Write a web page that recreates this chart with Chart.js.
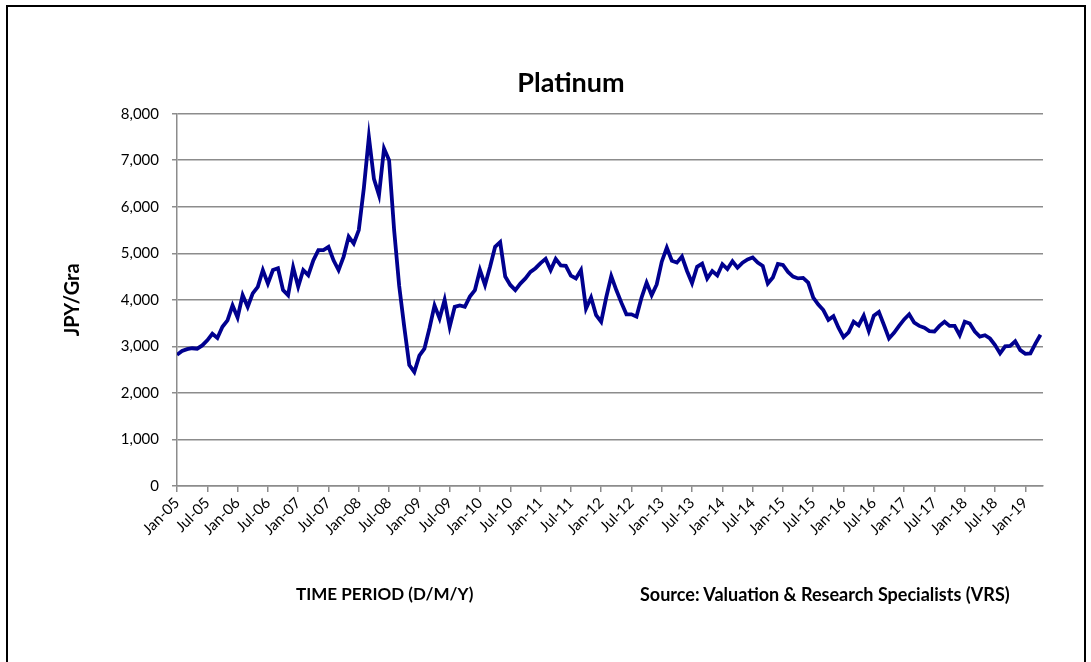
<!DOCTYPE html>
<html>
<head>
<meta charset="utf-8">
<script src="https://cdn.jsdelivr.net/npm/chart.js@4.4.1/dist/chart.umd.min.js"></script>
<style>
  html, body { margin: 0; padding: 0; background: #fff; }
  body { width: 1091px; height: 662px; position: relative; overflow: hidden; font-family: Lato, "DejaVu Sans", sans-serif; }
  #frame { position: absolute; left: 6px; top: 5px; width: 1076px; height: 700px; border: 2px solid #000; }
  #chart { position: absolute; left: 0; top: 0; }
  #title { position: absolute; left: 421px; width: 300px; top: 66px; line-height: 32px; text-align: center; font-size: 27px; font-weight: bold; color: #000; }
  .note { position: absolute; top: 583px; line-height: 22px; font-weight: bold; color: #000; white-space: nowrap; }
</style>
</head>
<body>
<div id="frame"></div>
<canvas id="chart" width="1091" height="662"></canvas>
<div id="title">Platinum</div>
<div class="note" style="left:296px; font-size:17px">TIME PERIOD (D/M/Y)</div>
<div class="note" style="left:640px; font-size:18px">Source: Valuation &amp; Research Specialists (VRS)</div>
<script>
// x tick labels, one every 6 months starting Jan-05
const TICK_LABELS = [
  "Jan-05", "Jul-05", "Jan-06", "Jul-06", "Jan-07", "Jul-07", "Jan-08", "Jul-08",
  "Jan-09", "Jul-09", "Jan-10", "Jul-10", "Jan-11", "Jul-11", "Jan-12", "Jul-12",
  "Jan-13", "Jul-13", "Jan-14", "Jul-14", "Jan-15", "Jul-15", "Jan-16", "Jul-16",
  "Jan-17", "Jul-17", "Jan-18", "Jul-18", "Jan-19"
];

// monthly platinum price (JPY per gram), Jan-05 .. Apr-19
const PRICE_2005_2007 = [
  2820, 2900, 2940, 2960, 2950, 3020, 3130, 3270, 3180, 3420, 3560, 3880,
  3620, 4100, 3850, 4140, 4280, 4640, 4350, 4640, 4680, 4210, 4100, 4700,
  4280, 4640, 4530, 4850, 5070, 5070, 5140, 4850, 4640, 4930, 5360, 5210
];
const PRICE_2008_2010 = [
  5500, 6400, 7500, 6600, 6250, 7250, 7000, 5500, 4300, 3420, 2600, 2450,
  2800, 2950, 3390, 3880, 3600, 4000, 3420, 3850, 3880, 3850, 4070, 4210,
  4640, 4320, 4710, 5140, 5240, 4500, 4320, 4210, 4350, 4460, 4600, 4680
];
const PRICE_2011_2013 = [
  4790, 4880, 4640, 4880, 4740, 4730, 4520, 4460, 4640, 3810, 4050, 3670,
  3530, 4050, 4510, 4210, 3940, 3690, 3690, 3640, 4050, 4370, 4100, 4330,
  4820, 5120, 4840, 4800, 4930, 4620, 4360, 4710, 4780, 4460, 4620, 4525
];
const PRICE_2014_2016 = [
  4765, 4660, 4830, 4690, 4800, 4870, 4910, 4800, 4730, 4350, 4480, 4770,
  4750, 4600, 4500, 4460, 4470, 4370, 4050, 3900, 3780, 3570, 3650, 3400,
  3200, 3300, 3530, 3450, 3660, 3330, 3660, 3740, 3460, 3170, 3290, 3440
];
const PRICE_2017_2019 = [
  3580, 3690, 3510, 3440, 3400, 3330, 3320, 3440, 3530, 3440, 3440, 3240,
  3530, 3490, 3320, 3210, 3240, 3170, 3030, 2850, 3000, 3010, 3110, 2920,
  2840, 2850, 3060, 3250
];

const PRICES = [].concat(PRICE_2005_2007, PRICE_2008_2010, PRICE_2011_2013,
                         PRICE_2014_2016, PRICE_2017_2019);

const GRID = "#8c8c8c";
const FONT_FAMILY = "Lato, 'DejaVu Sans', sans-serif";

new Chart(document.getElementById("chart"), {
  type: "line",
  data: {
    datasets: [{
      label: "Platinum",
      data: PRICES.map((v, i) => ({ x: i, y: v })),
      borderColor: "#00008f",
      borderWidth: 3.8,
      pointRadius: 0,
      tension: 0,
      fill: false,
    }],
  },
  options: {
    responsive: false,
    animation: false,
    devicePixelRatio: 1,
    layout: { padding: { top: 113.7, right: 48, left: 0, bottom: 0 } },
    plugins: {
      legend: { display: false },
      tooltip: { enabled: false },
      title: { display: false },
    },
    scales: {
      x: {
        type: "linear",
        min: 0,
        max: PRICES.length - 0.5,
        afterFit: (s) => { s.height = 176; },
        afterBuildTicks: (s) => { s.ticks = TICK_LABELS.map((_, i) => ({ value: i * 6 })); },
        border: { color: GRID, width: 1.5 },
        grid: { drawOnChartArea: false, color: GRID, lineWidth: 1.5, tickLength: 6 },
        ticks: {
          autoSkip: false,
          minRotation: 45,
          maxRotation: 45,
          padding: 2,
          color: "#000",
          font: { family: FONT_FAMILY, size: 15 },
          callback: (v) => TICK_LABELS[Math.round(v / 6)],
        },
      },
      y: {
        min: 0,
        max: 8000,
        afterFit: (s) => { s.width = 177; },
        border: { color: GRID, width: 1.5 },
        grid: { color: GRID, lineWidth: 1.5, tickLength: 5 },
        ticks: {
          stepSize: 1000,
          padding: 13,
          color: "#000",
          font: { family: FONT_FAMILY, size: 15 },
          callback: (v) => v.toLocaleString("en-US"),
        },
        title: {
          display: true,
          text: "JPY/Gra",
          color: "#000",
          font: { family: FONT_FAMILY, size: 20, weight: "bold", lineHeight: 1.2 },
          padding: { top: 61 },
        },
      },
    },
  },
});
</script>
</body>
</html>
